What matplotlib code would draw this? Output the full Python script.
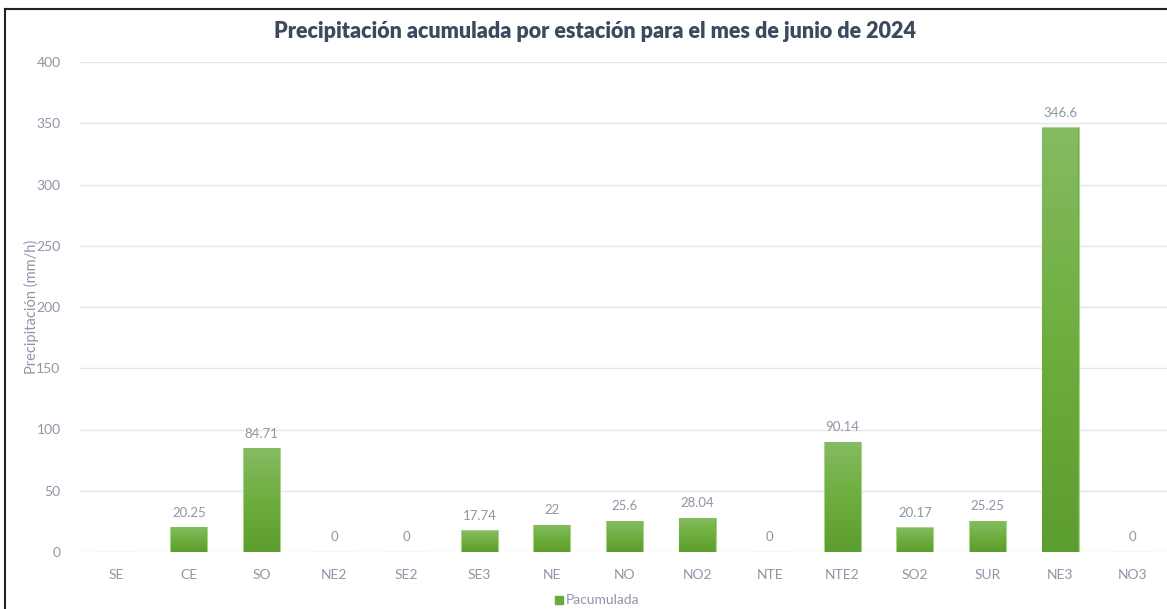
import numpy as np
import matplotlib.pyplot as plt
from matplotlib.patches import Rectangle
from matplotlib.colors import LinearSegmentedColormap

estaciones = ["SE", "CE", "SO", "NE2", "SE2", "SE3", "NE", "NO", "NO2", "NTE",
              "NTE2", "SO2", "SUR", "NE3", "NO3"]
pacumulada = [np.nan, 20.25, 84.71, 0, 0, 17.74, 22, 25.6, 28.04, 0,
              90.14, 20.17, 25.25, 346.6, 0]
etiquetas = ["", "20.25", "84.71", "0", "0", "17.74", "22", "25.6", "28.04", "0",
             "90.14", "20.17", "25.25", "346.6", "0"]

plt.rcParams["font.family"] = ["Lato", "DejaVu Sans"]
gris = "#8e96a6"

fig = plt.figure(figsize=(11.67, 6.09), dpi=100)
ax = fig.add_axes([80 / 1167, 57 / 609, 1089 / 1167, 490 / 609])

x = np.arange(len(estaciones))
valores = np.nan_to_num(pacumulada)
bars = ax.bar(x, valores, width=0.51, color="#6aab3f", edgecolor="#a9d48c",
              linewidth=0.8, zorder=2)

# degradado vertical en cada barra
cmap = LinearSegmentedColormap.from_list("verde", ["#5c9d2f", "#6eae3e", "#85bb62"])
grad = np.linspace(0, 1, 256).reshape(-1, 1)
for b in bars:
    h = b.get_height()
    if h <= 0:
        continue
    ax.imshow(grad, cmap=cmap, origin="lower", aspect="auto", zorder=2.5,
              extent=(b.get_x() + 0.01, b.get_x() + b.get_width() - 0.01, 0, h - 0.6))

for xi, v, t in zip(x, valores, etiquetas):
    if t:
        ax.text(xi, v + 7, t, ha="center", va="bottom", fontsize=9.5, color=gris)

ax.set_xlim(-0.5, len(estaciones) - 0.5)
ax.set_ylim(0, 400)
ax.set_yticks(range(0, 401, 50))
ax.set_xticks(x, estaciones)
ax.grid(axis="y", color="#e3e6ec", linewidth=1, zorder=0)
ax.set_axisbelow(True)
for s in ax.spines.values():
    s.set_visible(False)
ax.tick_params(length=0, colors=gris, labelsize=10)
ax.tick_params(axis="x", pad=12)
ax.tick_params(axis="y", pad=14)
ax.set_ylabel("Precipitación (mm/h)", color=gris, fontsize=10.5)
ax.yaxis.set_label_coords(-0.038, 0.5)

fig.text(595 / 1167, 1 - 31 / 609, "Precipitación acumulada por estación para el mes de junio de 2024",
         ha="center", va="center", fontsize=15.5, fontweight="heavy", color="#3b4a5e")

# leyenda
fig.patches.append(Rectangle((555 / 1167, 1 - 604 / 609), 8 / 1167, 8 / 609,
                             transform=fig.transFigure, color="#6aab3f"))
fig.text(566 / 1167, 1 - 600 / 609, "Pacumulada", ha="left", va="center",
         fontsize=10, color=gris)

# marco
fig.add_artist(plt.Line2D([5 / 1167, 1], [1 - 9 / 609] * 2, color="#222222",
                          linewidth=1.5, transform=fig.transFigure))
fig.add_artist(plt.Line2D([5 / 1167] * 2, [0, 1 - 9 / 609], color="#222222",
                          linewidth=1.5, transform=fig.transFigure))

fig.savefig("out.png", dpi=100)
